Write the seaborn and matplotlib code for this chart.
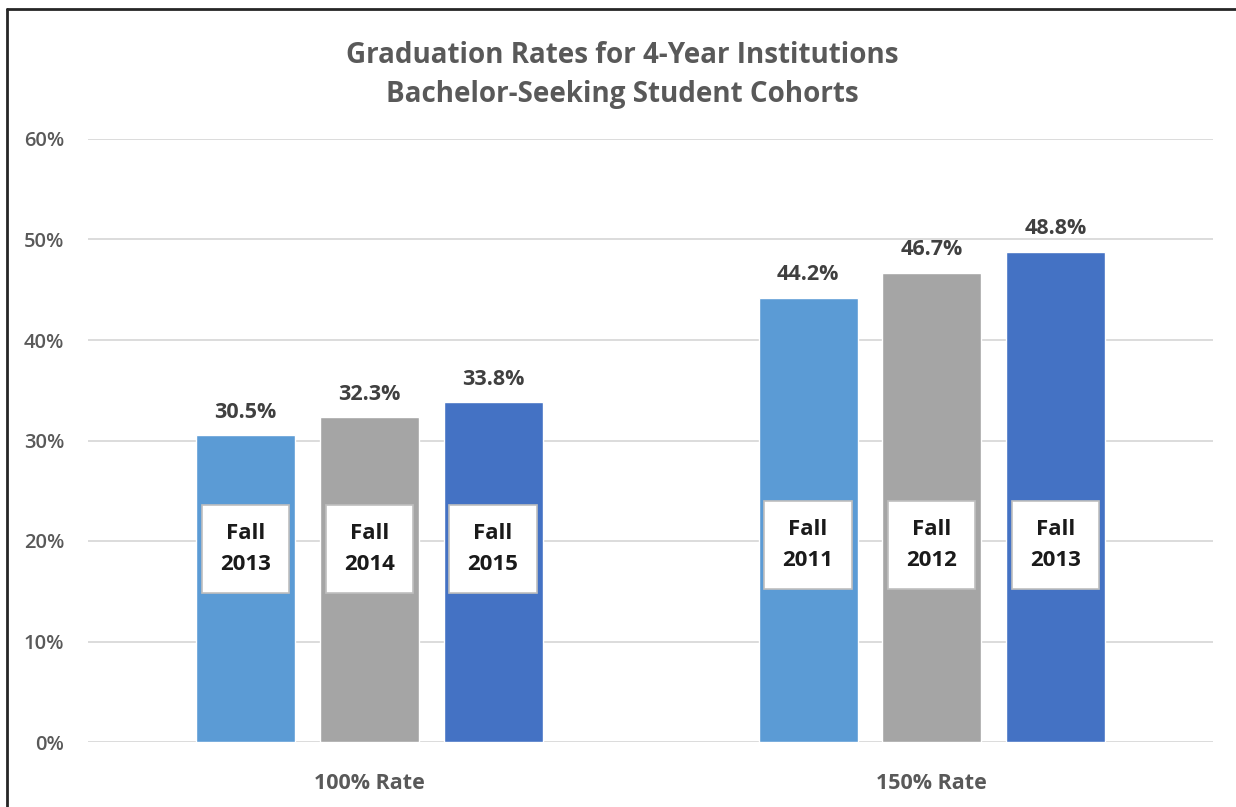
import matplotlib
matplotlib.use("Agg")
import matplotlib.pyplot as plt
import seaborn as sns
import pandas as pd
from matplotlib.lines import Line2D

groups = ["100% Rate", "150% Rate"]
cohort_slot = ["A", "B", "C"]
rates_100 = [30.5, 32.3, 33.8]
rates_150 = [44.2, 46.7, 48.8]
cohorts_100 = ["Fall\n2013", "Fall\n2014", "Fall\n2015"]
cohorts_150 = ["Fall\n2011", "Fall\n2012", "Fall\n2013"]
label_y = [19.2, 19.6]
colors = ["#5B9BD5", "#A5A5A5", "#4472C4"]
title = "Graduation Rates for 4-Year Institutions\nBachelor-Seeking Student Cohorts"

rows = []
for g, rates, cohorts in [(groups[0], rates_100, cohorts_100), (groups[1], rates_150, cohorts_150)]:
    for s, r, c in zip(cohort_slot, rates, cohorts):
        rows.append({"group": g, "slot": s, "rate": r, "cohort": c})
df = pd.DataFrame(rows)

sns.set_theme(style="white")
plt.rcParams["font.family"] = ["Open Sans", "DejaVu Sans"]

fig = plt.figure(figsize=(12.36, 8.07), dpi=100)
ax = fig.add_axes([88/1236, 1-742/807, (1213-88)/1236, (742-139)/807])

sns.barplot(data=df, x="group", y="rate", hue="slot", order=groups, hue_order=cohort_slot,
            palette=colors, width=0.66, gap=0.2, ax=ax, legend=False, saturation=1)

ax.set_ylim(0, 60)
ax.set_yticks(range(0, 61, 10))
ax.set_yticklabels([f"{v}%" for v in range(0, 61, 10)], fontsize=14.5, color="#595959", fontweight="semibold")
ax.yaxis.grid(True, color="#D9D9D9", linewidth=1.3)
ax.set_axisbelow(True)
for sp in ax.spines.values():
    sp.set_visible(False)
ax.tick_params(axis="y", length=0, pad=17)
ax.tick_params(axis="x", length=0, pad=22)
for t in ax.get_xticklabels():
    t.set_fontsize(15.5)
    t.set_color("#595959")
    t.set_fontweight("bold")
ax.set_xlabel("")
ax.set_ylabel("")

# value labels and cohort boxes
for i, cont in enumerate(ax.containers):
    for j, bar in enumerate(cont):
        x = bar.get_x() + bar.get_width() / 2
        h = bar.get_height()
        ax.annotate(f"{h:.1f}%", (x, h), xytext=(0, 9), textcoords="offset points",
                    ha="center", va="bottom", fontsize=15.5, fontweight="bold", color="#404040")
        lab = (cohorts_100 if j == 0 else cohorts_150)[i]
        ax.text(x, label_y[j], lab, ha="center", va="center", fontsize=16, fontweight="bold",
                color="#1a1a1a", linespacing=1.6,
                bbox=dict(boxstyle="square,pad=0.82", facecolor="white", edgecolor="#BFBFBF", linewidth=1.2))

fig.text(622/1236, 1-75/807, title, ha="center", va="center", fontsize=20, fontweight="bold",
         color="#595959", linespacing=1.42)

# outer frame (left and top edges visible)
fig.add_artist(Line2D([7/1236, 7/1236], [0, 1-9/807], transform=fig.transFigure, color="#262626", linewidth=2))
fig.add_artist(Line2D([7/1236, 1], [1-9/807, 1-9/807], transform=fig.transFigure, color="#262626", linewidth=2))

fig.savefig("out.png", dpi=100)
